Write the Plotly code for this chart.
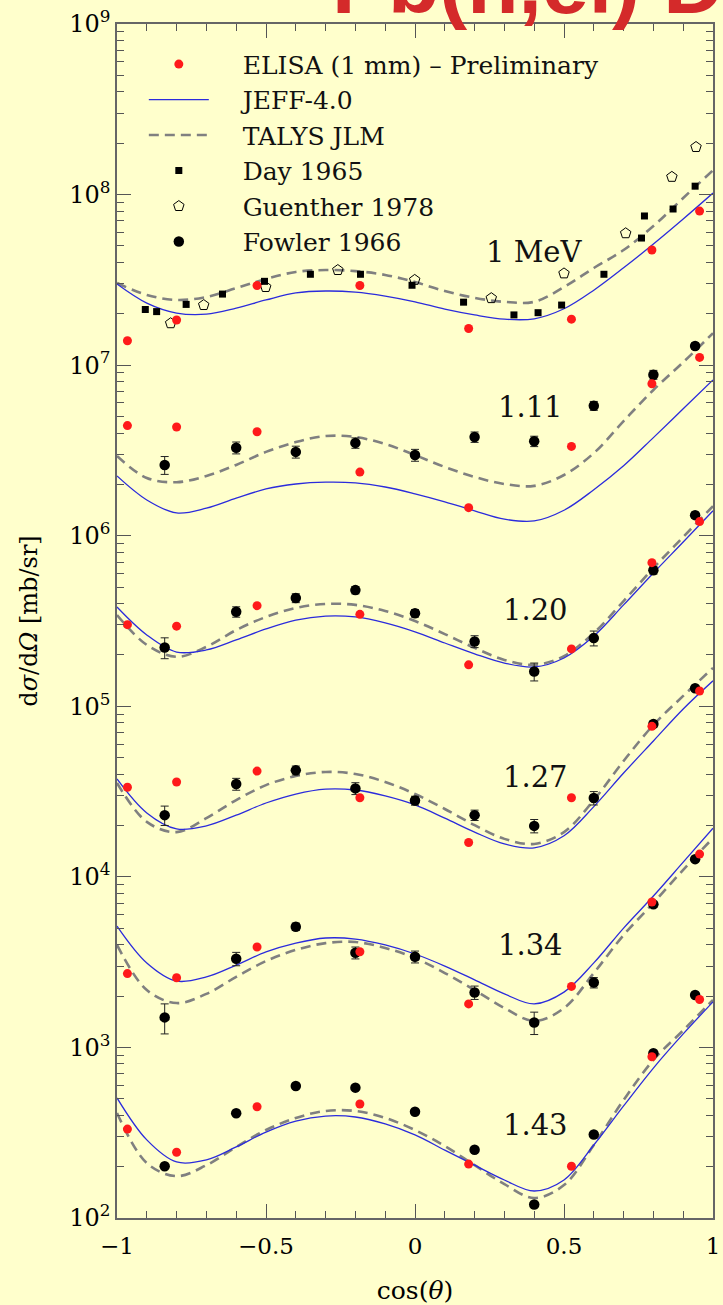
import plotly.graph_objects as go

# ---------------- data ----------------
COS_GRID = [-1.0, -0.9, -0.8, -0.7, -0.6, -0.5, -0.4, -0.3, -0.2, -0.1, 0.0,
            0.1, 0.2, 0.3, 0.4, 0.5, 0.6, 0.7, 0.8, 0.9, 1.0]

ENERGIES = ["1 MeV", "1.11", "1.20", "1.27", "1.34", "1.43"]

# JEFF-4.0 evaluated curves (mb/sr) read on COS_GRID
JEFF_100 = [2.99e7, 2.31e7, 2.02e7, 1.99e7, 2.16e7, 2.41e7, 2.65e7, 2.72e7, 2.68e7, 2.54e7, 2.35e7,
            2.13e7, 1.97e7, 1.86e7, 1.87e7, 2.14e7, 2.75e7, 3.72e7, 5.13e7, 7.19e7, 1.02e8]
JEFF_111 = [2.24e6, 1.62e6, 1.36e6, 1.45e6, 1.66e6, 1.88e6, 2.01e6, 2.06e6, 2.04e6, 1.93e6, 1.76e6,
            1.58e6, 1.40e6, 1.25e6, 1.22e6, 1.41e6, 1.86e6, 2.57e6, 3.76e6, 5.55e6, 8.19e6]
JEFF_120 = [3.82e5, 2.62e5, 2.08e5, 2.14e5, 2.45e5, 2.84e5, 3.20e5, 3.38e5, 3.34e5, 3.08e5, 2.73e5,
            2.35e5, 2.03e5, 1.79e5, 1.70e5, 1.92e5, 2.58e5, 3.93e5, 6.05e5, 9.19e5, 1.40e6]
JEFF_127 = [3.75e4, 2.37e4, 1.91e4, 1.99e4, 2.30e4, 2.71e4, 3.06e4, 3.27e4, 3.23e4, 2.98e4, 2.64e4,
            2.21e4, 1.83e4, 1.56e4, 1.48e4, 1.74e4, 2.58e4, 4.06e4, 6.26e4, 9.64e4, 1.41e5]
JEFF_134 = [5.15e3, 3.13e3, 2.45e3, 2.59e3, 3.04e3, 3.63e3, 4.09e3, 4.38e3, 4.32e3, 3.99e3, 3.53e3,
            3.00e3, 2.49e3, 2.06e3, 1.80e3, 2.11e3, 3.13e3, 5.01e3, 7.72e3, 1.22e4, 1.93e4]
JEFF_143 = [506, 287, 213, 219, 261, 319, 370, 396, 391, 356, 307,
            250, 204, 167, 144, 167, 268, 454, 757, 1.20e3, 1.85e3]

# TALYS JLM curves (mb/sr) read on COS_GRID
TALYS_100 = [3.03e7, 2.58e7, 2.41e7, 2.51e7, 2.83e7, 3.20e7, 3.52e7, 3.61e7, 3.56e7, 3.38e7, 3.07e7,
             2.72e7, 2.48e7, 2.35e7, 2.35e7, 2.87e7, 3.71e7, 4.73e7, 6.54e7, 9.55e7, 1.39e8]
TALYS_111 = [2.93e6, 2.18e6, 2.06e6, 2.24e6, 2.60e6, 3.10e6, 3.54e6, 3.84e6, 3.79e6, 3.45e6, 2.97e6,
             2.53e6, 2.21e6, 2.01e6, 1.96e6, 2.27e6, 3.05e6, 4.70e6, 7.15e6, 1.04e7, 1.54e7]
TALYS_120 = [3.43e5, 2.29e5, 1.95e5, 2.23e5, 2.80e5, 3.34e5, 3.77e5, 3.98e5, 3.93e5, 3.62e5, 3.16e5,
             2.65e5, 2.20e5, 1.87e5, 1.75e5, 1.97e5, 2.69e5, 4.14e5, 6.47e5, 9.83e5, 1.49e6]
TALYS_127 = [3.55e4, 2.10e4, 1.83e4, 2.21e4, 2.82e4, 3.45e4, 3.90e4, 4.12e4, 4.01e4, 3.60e4, 3.06e4,
             2.50e4, 2.01e4, 1.67e4, 1.56e4, 1.83e4, 2.82e4, 4.78e4, 7.77e4, 1.15e5, 1.68e5]
TALYS_134 = [3.99e3, 2.17e3, 1.82e3, 2.06e3, 2.59e3, 3.21e3, 3.73e3, 4.09e3, 4.15e3, 3.83e3, 3.34e3,
             2.73e3, 2.17e3, 1.70e3, 1.43e3, 1.70e3, 2.73e3, 4.56e3, 7.03e3, 1.10e4, 1.69e4]
TALYS_143 = [413, 210, 176, 204, 261, 328, 386, 424, 424, 386, 328,
             264, 204, 158, 131, 156, 268, 492, 844, 1.26e3, 1.90e3]

# ELISA (1 mm) preliminary
ELISA_COS = [-0.965, -0.80, -0.53, -0.185, 0.18, 0.525, 0.795, 0.955]
ELISA_100 = [1.39e7, 1.84e7, 2.93e7, 2.93e7, 1.64e7, 1.86e7, 4.73e7, 8.0e7]
ELISA_111 = [4.42e6, 4.34e6, 4.07e6, 2.36e6, 1.46e6, 3.34e6, 7.78e6, 1.11e7]
ELISA_120 = [3.01e5, 2.95e5, 3.89e5, 3.46e5, 1.75e5, 2.17e5, 6.95e5, 1.21e6]
ELISA_127 = [3.35e4, 3.60e4, 4.17e4, 2.91e4, 1.59e4, 2.91e4, 7.63e4, 1.23e5]
ELISA_134 = [2.71e3, 2.56e3, 3.88e3, 3.64e3, 1.80e3, 2.28e3, 7.12e3, 1.36e4]
ELISA_143 = [332, 243, 449, 466, 207, 201, 882, 1.91e3]

# Day 1965 (1 MeV)
DAY_COS = [-0.905, -0.867, -0.768, -0.646, -0.505, -0.351, -0.183, -0.010, 0.163, 0.332,
           0.413, 0.492, 0.634, 0.760, 0.770, 0.866, 0.940]
DAY_100 = [2.12e7, 2.06e7, 2.27e7, 2.61e7, 3.10e7, 3.41e7, 3.41e7, 2.94e7, 2.34e7, 1.97e7,
           2.03e7, 2.25e7, 3.41e7, 5.56e7, 7.49e7, 8.23e7, 1.12e8]

# Guenther 1978 (1 MeV)
GUENTHER_COS = [-0.820, -0.709, -0.501, -0.259, -0.001, 0.256, 0.500, 0.707, 0.862, 0.943]
GUENTHER_100 = [1.76e7, 2.25e7, 2.87e7, 3.61e7, 3.16e7, 2.47e7, 3.45e7, 5.93e7, 1.27e8, 1.90e8]

# Fowler 1966 (1.11 - 1.43 MeV)
FOWLER_COS = [-0.84, -0.60, -0.40, -0.20, 0.00, 0.20, 0.40, 0.60, 0.80, 0.94]
FOWLER_111 = [2.60e6, 3.28e6, 3.10e6, 3.50e6, 2.97e6, 3.79e6, 3.58e6, 5.78e6, 8.79e6, 1.295e7]
FOWLER_120 = [2.21e5, 3.58e5, 4.31e5, 4.80e5, 3.51e5, 2.40e5, 1.60e5, 2.51e5, 6.27e5, 1.32e6]
FOWLER_127 = [2.30e4, 3.50e4, 4.21e4, 3.30e4, 2.80e4, 2.30e4, 1.99e4, 2.90e4, 7.87e4, 1.275e5]
FOWLER_134 = [1.50e3, 3.31e3, 5.10e3, 3.59e3, 3.40e3, 2.10e3, 1.40e3, 2.40e3, 6.90e3, 1.27e4]
FOWLER_143 = [201, 411, 594, 581, 420, 251, 120, 309, 924, 2.03e3]
# relative uncertainties
FOWLER_ERR_111 = [0.12, 0.08, 0.08, 0.07, 0.08, 0.07, 0.07, 0.06, 0.06, 0.04]
FOWLER_ERR_120 = [0.14, 0.07, 0.06, 0.05, 0.05, 0.08, 0.12, 0.10, 0.05, 0.04]
FOWLER_ERR_127 = [0.13, 0.08, 0.06, 0.08, 0.06, 0.07, 0.09, 0.09, 0.04, 0.03]
FOWLER_ERR_134 = [0.20, 0.09, 0.05, 0.08, 0.08, 0.09, 0.15, 0.07, 0.04, 0.03]
FOWLER_ERR_143 = [0, 0, 0, 0, 0, 0, 0, 0, 0, 0]

Y_TICK_EXP = [2, 3, 4, 5, 6, 7, 8, 9]
X_TICKS = [-1, -0.5, 0, 0.5, 1]
X_TICK_TEXT = ["\u22121", "\u22120.5", "0", "0.5", "1"]

# label placement (cos, log10 value)
LABEL_POS = [(0.40, 7.663), (0.386, 6.755), (0.403, 5.565), (0.403, 4.585), (0.386, 3.60), (0.403, 2.545)]

# ---------------- styling ----------------
FONT = "DejaVu Serif"
BG = "#ffffcc"
RED = "#ff1a1a"
BLUE = "#2b2bdc"
GREY = "#808080"
PAD = "\u00a0" * 3 + "\u2009"

fig = go.Figure()

jeff = [JEFF_100, JEFF_111, JEFF_120, JEFF_127, JEFF_134, JEFF_143]
talys = [TALYS_100, TALYS_111, TALYS_120, TALYS_127, TALYS_134, TALYS_143]
elisa = [ELISA_100, ELISA_111, ELISA_120, ELISA_127, ELISA_134, ELISA_143]
fowler = [FOWLER_111, FOWLER_120, FOWLER_127, FOWLER_134, FOWLER_143]
fowler_err = [FOWLER_ERR_111, FOWLER_ERR_120, FOWLER_ERR_127, FOWLER_ERR_134, FOWLER_ERR_143]

for i, ys in enumerate(talys):
    fig.add_trace(go.Scatter(x=COS_GRID, y=ys, mode="lines", name=PAD + "TALYS JLM",
                             line=dict(color=GREY, width=2.6, dash="10px,6px", shape="spline", smoothing=1.0),
                             legendgroup="talys", showlegend=(i == 0), legendrank=3))
for i, ys in enumerate(jeff):
    fig.add_trace(go.Scatter(x=COS_GRID, y=ys, mode="lines", name=PAD + "JEFF-4.0",
                             line=dict(color=BLUE, width=1.3, shape="spline", smoothing=1.0),
                             legendgroup="jeff", showlegend=(i == 0), legendrank=2))

fig.add_trace(go.Scatter(x=DAY_COS, y=DAY_100, mode="markers", name=PAD + "Day 1965",
                         marker=dict(symbol="square", size=7, color="black"), legendrank=4))
fig.add_trace(go.Scatter(x=GUENTHER_COS, y=GUENTHER_100, mode="markers", name=PAD + "Guenther 1978",
                         marker=dict(symbol="pentagon-open", size=11, color="black", line=dict(width=1)),
                         legendrank=5))
for i, ys in enumerate(fowler):
    errs = [v * e for v, e in zip(ys, fowler_err[i])]
    fig.add_trace(go.Scatter(x=FOWLER_COS, y=ys, mode="markers", name=PAD + "Fowler 1966",
                             marker=dict(symbol="circle", size=10.5, color="black"),
                             error_y=dict(type="data", array=errs, color="#222", thickness=1, width=4),
                             legendgroup="fowler", showlegend=(i == 0), legendrank=6))
for i, ys in enumerate(elisa):
    fig.add_trace(go.Scatter(x=ELISA_COS, y=ys, mode="markers", name=PAD + "ELISA (1 mm) \u2013 Preliminary",
                             marker=dict(symbol="circle", size=9, color=RED),
                             legendgroup="elisa", showlegend=(i == 0), legendrank=1))

for (cx, ly), txt in zip(LABEL_POS, ENERGIES):
    fig.add_annotation(x=cx, y=ly, xref="x", yref="y", text=txt, showarrow=False,
                       font=dict(family=FONT, size=29, color="#111"), xanchor="center", yanchor="middle")

# red slide title, mostly clipped by the top edge
fig.add_annotation(x=(330 - 117) / 596, y=1.0, xref="paper", yref="paper", xanchor="left", yanchor="bottom",
                   yshift=-9, text="<b>Pb(n,el) DXS</b>", showarrow=False,
                   font=dict(family="Liberation Sans", size=84, color="#d42a2a"))

minor_y = [m * 10 ** e for e in range(2, 9) for m in range(2, 10)]

fig.update_layout(
    width=723, height=1305,
    margin=dict(l=117, r=10, t=24, b=87),
    paper_bgcolor=BG, plot_bgcolor=BG,
    font=dict(family=FONT, size=23, color="black"),
    showlegend=True,
    legend=dict(x=0.045, y=0.9855, xanchor="left", yanchor="top", bgcolor="rgba(0,0,0,0)",
                font=dict(family=FONT, size=25, color="#111"), itemwidth=60,
                tracegroupgap=0, traceorder="normal"),
    xaxis=dict(range=[-1, 1], tickvals=X_TICKS, ticktext=X_TICK_TEXT, ticks="inside", ticklen=14,
               tickcolor="#555", tickwidth=1.2, showline=True, linecolor="#666", linewidth=1.6,
               mirror="allticks", showgrid=False, zeroline=False, automargin=False,
               ticklabelstandoff=7,
               minor=dict(ticks="inside", ticklen=7, dtick=0.1, tickcolor="#555", tickwidth=1.2, showgrid=False),
               title=dict(text="cos(<i>\u03b8</i>)", font=dict(family=FONT, size=25), standoff=26),
               tickfont=dict(family=FONT, size=23)),
    yaxis=dict(type="log", range=[2, 9], tickvals=[10 ** e for e in Y_TICK_EXP],
               ticktext=["10<sup>%d</sup>" % e for e in Y_TICK_EXP], ticks="inside", ticklen=14,
               tickcolor="#555", tickwidth=1.2, showline=True, linecolor="#666", linewidth=1.6,
               mirror="allticks", showgrid=False, zeroline=False, automargin=False,
               minor=dict(ticks="inside", ticklen=7, tickvals=minor_y, tickcolor="#555", tickwidth=1.2, showgrid=False),
               title=dict(text="d<i>\u03c3</i>/d<i>\u03a9</i> [mb/sr]", font=dict(family=FONT, size=24), standoff=25),
               tickfont=dict(family=FONT, size=24)),
)

fig.write_html("out.html", config={"displayModeBar": False},
               post_script="document.body.style.margin='0px';document.body.style.backgroundColor='#ffffcc';")
